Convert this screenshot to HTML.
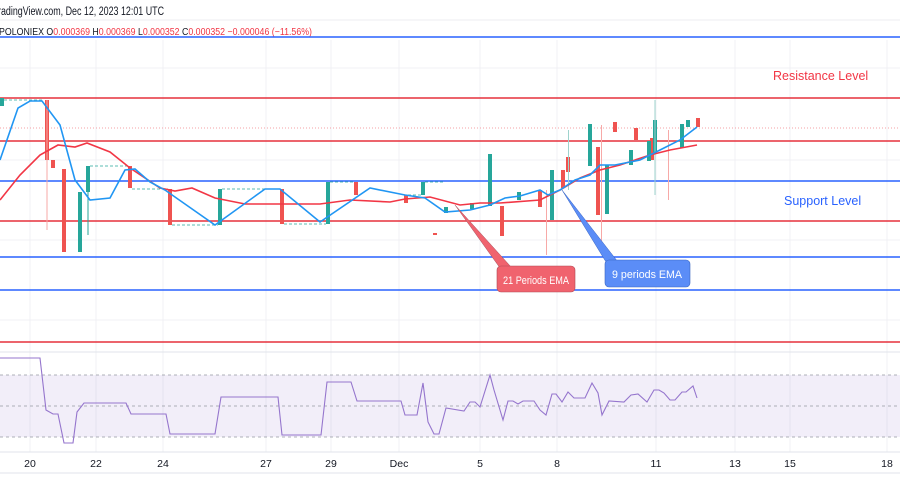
<!DOCTYPE html>
<html><head><meta charset="utf-8"><style>
html,body{margin:0;padding:0;background:#fff;}
svg{display:block;font-family:"Liberation Sans",sans-serif;}
</style></head><body>
<svg width="900" height="500" viewBox="0 0 900 500" xmlns="http://www.w3.org/2000/svg">
<rect width="900" height="500" fill="#fff"/>
<g stroke="#f0f1f4" stroke-width="1">
<line x1="30" y1="40" x2="30" y2="452"/><line x1="96" y1="40" x2="96" y2="452"/><line x1="163" y1="40" x2="163" y2="452"/>
<line x1="266" y1="40" x2="266" y2="452"/><line x1="331" y1="40" x2="331" y2="452"/><line x1="399" y1="40" x2="399" y2="452"/>
<line x1="480" y1="40" x2="480" y2="452"/><line x1="557" y1="40" x2="557" y2="452"/><line x1="656" y1="40" x2="656" y2="452"/>
<line x1="735" y1="40" x2="735" y2="452"/><line x1="790" y1="40" x2="790" y2="452"/><line x1="887" y1="40" x2="887" y2="452"/>
<line x1="0" y1="68" x2="900" y2="68"/><line x1="0" y1="160" x2="900" y2="160"/><line x1="0" y1="240" x2="900" y2="240"/><line x1="0" y1="320" x2="900" y2="320"/>
</g>
<line x1="0" y1="20" x2="900" y2="20" stroke="#eceef2"/>
<text x="-2" y="15" font-size="11.5" fill="#131722" textLength="166" lengthAdjust="spacingAndGlyphs">radingView.com, Dec 12, 2023 12:01 UTC</text>
<text x="-1" y="35" font-size="10" fill="#131722" textLength="313" lengthAdjust="spacingAndGlyphs">POLONIEX  O<tspan fill="#f23645">0.000369</tspan>  H<tspan fill="#f23645">0.000369</tspan>  L<tspan fill="#f23645">0.000352</tspan>  C<tspan fill="#f23645">0.000352</tspan>  <tspan fill="#f23645">−0.000046 (−11.56%)</tspan></text>
<g stroke-width="1.6">
<line x1="0" y1="37" x2="900" y2="37" stroke="#2962ff"/>
<line x1="0" y1="98" x2="900" y2="98" stroke="#e5303c"/>
<line x1="0" y1="141" x2="900" y2="141" stroke="#e5303c"/>
<line x1="0" y1="181" x2="900" y2="181" stroke="#2962ff"/>
<line x1="0" y1="221" x2="900" y2="221" stroke="#e5303c"/>
<line x1="0" y1="257" x2="900" y2="257" stroke="#2962ff"/>
<line x1="0" y1="290" x2="900" y2="290" stroke="#2962ff"/>
<line x1="0" y1="342" x2="900" y2="342" stroke="#e5303c"/>
</g>
<line x1="0" y1="128" x2="900" y2="128" stroke="#f5a0a6" stroke-dasharray="1,2"/>
<text x="773" y="80" font-size="12.5" fill="#f23645">Resistance Level</text>
<text x="784" y="205" font-size="12.5" fill="#2962ff">Support Level</text>
<g fill="#ef5350">
<rect x="45" y="100" width="4" height="60"/><rect x="46.5" y="100" width="1" height="130" fill="#f7a9a7"/>
<rect x="51" y="160" width="4" height="8"/><rect x="62" y="169" width="4" height="83"/>
<rect x="128" y="166" width="4" height="22"/><rect x="168" y="189" width="4" height="36"/>
<rect x="280" y="189" width="4" height="35"/><rect x="354" y="182" width="4" height="13"/>
<rect x="404" y="195" width="4" height="8"/><rect x="433" y="233" width="4" height="2"/>
<rect x="500" y="206" width="4" height="30"/><rect x="538" y="190" width="4" height="17"/>
<rect x="546" y="190" width="1" height="65" fill="#f7a9a7"/>
<rect x="561" y="170" width="4" height="18"/><rect x="566" y="157" width="4" height="15"/>
<rect x="596" y="147" width="4" height="68"/><rect x="601" y="125" width="1" height="120" fill="#f7a9a7"/>
<rect x="613" y="122" width="4" height="10"/><rect x="634" y="128" width="4" height="12"/>
<rect x="668" y="130" width="1" height="70" fill="#f7a9a7"/>
<rect x="650" y="138" width="4" height="22"/><rect x="696" y="118" width="4" height="9"/>
</g>
<g fill="#26a69a">
<rect x="0" y="98" width="4" height="8"/>
<rect x="78" y="192" width="4" height="60"/><rect x="86" y="166" width="4" height="26"/><rect x="87.5" y="166" width="1" height="69"/>
<rect x="218" y="189" width="4" height="36"/><rect x="326" y="182" width="4" height="42"/>
<rect x="421" y="182" width="4" height="13"/><rect x="444" y="207" width="4" height="6"/>
<rect x="470" y="203" width="4" height="6"/><rect x="488" y="154" width="4" height="52"/>
<rect x="517" y="192" width="4" height="8"/><rect x="550" y="170" width="4" height="50"/>
<rect x="568" y="130" width="1" height="60" fill="#9ed3cd"/>
<rect x="588" y="124" width="4" height="42"/><rect x="605" y="165" width="4" height="49"/>
<rect x="629" y="150" width="4" height="15"/><rect x="647" y="141" width="4" height="20"/>
<rect x="653" y="120" width="4" height="32"/><rect x="654.5" y="100" width="1" height="95" fill="#9ed3cd"/>
<rect x="680" y="124" width="4" height="24"/><rect x="686" y="120" width="4" height="7"/>
</g>
<g stroke="#26a69a" stroke-dasharray="3,2" stroke-width="0.8">
<line x1="4" y1="100" x2="42" y2="100"/><line x1="90" y1="166" x2="128" y2="166"/><line x1="132" y1="189" x2="168" y2="189"/>
<line x1="172" y1="225" x2="218" y2="225"/><line x1="222" y1="189" x2="280" y2="189"/><line x1="284" y1="224" x2="326" y2="224"/>
<line x1="330" y1="182" x2="354" y2="182"/><line x1="408" y1="195" x2="421" y2="195"/><line x1="425" y1="182" x2="444" y2="182"/>
</g>
<polyline fill="none" stroke="#f23645" stroke-width="1.6" points="0,200 20,175 40,155 58,145 75,147 87,143 110,152 130,168 160,188 175,191 192,188 215,198 245,204 290,204 320,204 350,200 390,202 405,199 430,197 460,205 480,203 500,203 540,200 560,190 580,178 600,170 620,165 650,155 670,150 697,145"/>
<polyline fill="none" stroke="#2196f3" stroke-width="1.6" points="0,160 18,108 30,101 42,101 60,125 75,180 90,200 110,198 125,170 135,169 150,182 165,190 215,225 265,189 280,189 320,222 370,188 405,195 425,198 445,212 470,210 490,205 505,198 520,196 540,190 548,195 555,192 560,190 575,180 590,175 600,165 615,165 640,160 660,150 680,140 697,127"/>
<polygon points="455,205 500,268 512,268" fill="#f0636e" stroke="#a05560" stroke-width="0.5"/>
<rect x="497" y="266" width="78" height="26" rx="4" fill="#f0636e" stroke="#b04a55" stroke-width="0.6"/>
<text x="503" y="284" font-size="11" fill="#fff" textLength="66" lengthAdjust="spacingAndGlyphs">21 Periods EMA</text>
<polygon points="562,190 606,262 618,262" fill="#5b8df7" stroke="#3a66c0" stroke-width="0.5"/>
<rect x="605" y="260" width="85" height="27" rx="4" fill="#5b8df7" stroke="#3a66c0" stroke-width="0.6"/>
<text x="612" y="278" font-size="11" fill="#fff" textLength="70" lengthAdjust="spacingAndGlyphs">9 periods EMA</text>
<line x1="0" y1="352" x2="900" y2="352" stroke="#e0e3eb"/>
<rect x="0" y="375" width="900" height="62" fill="#7e57c2" fill-opacity="0.1"/>
<g stroke="#9598a1" stroke-dasharray="3,3" stroke-width="0.8">
<line x1="0" y1="375" x2="900" y2="375"/><line x1="0" y1="406" x2="900" y2="406"/><line x1="0" y1="437" x2="900" y2="437"/>
</g>
<polyline fill="none" stroke="#9575cd" stroke-width="1.1" points="0,358 40,358 46,410 53,414 58,414 64,443 73,443 77,412 84,403 126,403 131,414 166,414 170,434 215,434 221,397 278,397 282,435 321,435 327,382 351,382 357,401 401,401 405,415 417,415 423,383 428,422 434,434 439,434 446,408 464,411 470,402 475,402 480,407 490,375 494,390 503,420 508,401 513,401 518,404 523,401 534,401 540,410 546,415 552,394 556,394 562,402 568,392 574,398 585,398 592,383 598,393 602,415 609,401 624,402 631,395 638,394 647,402 654,390 659,390 664,393 670,400 675,400 682,392 686,392 693,386 697,398"/>
<line x1="0" y1="452" x2="900" y2="452" stroke="#e0e3eb"/>
<line x1="0" y1="473" x2="900" y2="473" stroke="#e0e3eb"/>
<g font-size="10.5" fill="#131722" text-anchor="middle">
<text x="30" y="467">20</text><text x="96" y="467">22</text><text x="163" y="467">24</text><text x="266" y="467">27</text>
<text x="331" y="467">29</text><text x="399" y="467">Dec</text><text x="480" y="467">5</text><text x="557" y="467">8</text>
<text x="656" y="467">11</text><text x="735" y="467">13</text><text x="790" y="467">15</text><text x="887" y="467">18</text>
</g>
</svg>
</body></html>
